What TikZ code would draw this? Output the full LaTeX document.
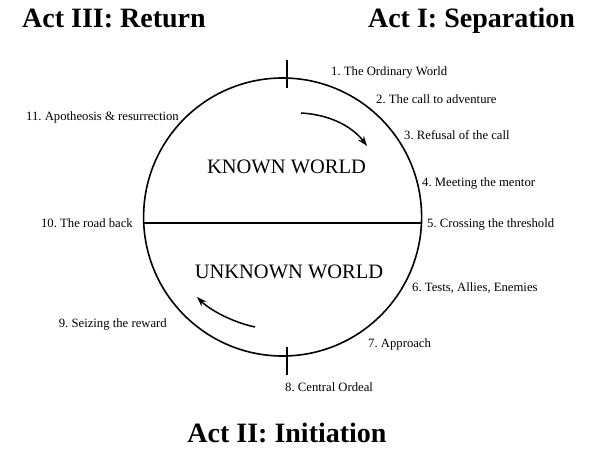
\documentclass[tikz,border=0pt]{standalone}
\usepackage{fontspec}
\setmainfont{Liberation Serif}
\usetikzlibrary{arrows.meta}
\frenchspacing
\begin{document}
\begin{tikzpicture}[x=1pt,y=-1pt,
  lbl/.style={inner sep=0pt,font=\fontsize{12.7}{14}\selectfont},
  lblr/.style={lbl,anchor=base west},
  lbll/.style={lbl,anchor=base east},
  acttitle/.style={inner sep=0pt,anchor=base,font=\fontsize{28}{32}\selectfont\bfseries},
  worldtxt/.style={inner sep=0pt,font=\fontsize{20.5}{24}\selectfont},
  rim/.style={line width=1.6pt},
  tick/.style={line width=1.8pt},
  chord/.style={line width=2.3pt},
  flow/.style={line width=1.5pt,-{Stealth[length=10pt,width=7pt]}}
]
\useasboundingbox (0,0) rectangle (593,450);
\fill[white] (0,0) rectangle (593,450);

% circle
\node[circle,draw,rim,inner sep=0pt,minimum size=278pt] (world) at (282.6,217) {};

% chord
\coordinate (cL) at (143.8,222.8);
\coordinate (cR) at (421.4,222.8);
\draw[chord] (cL) -- (cR);

% ticks
\coordinate (tT1) at (287,60);
\coordinate (tT2) at (287,88);
\coordinate (tB1) at (287,347);
\coordinate (tB2) at (287,375);
\draw[tick] (tT1) -- (tT2);
\draw[tick] (tB1) -- (tB2);

% inner texts
\node[worldtxt] (known) at (286.5,167) {KNOWN WORLD};
\node[worldtxt] (unknown) at (289,272) {UNKNOWN WORLD};

% arrows
\coordinate (a1s) at (301,113);
\coordinate (a1e) at (367,146);
\draw[flow] (a1s) .. controls (335,115) and (355,130) .. (a1e);
\coordinate (a2s) at (255,327);
\coordinate (a2e) at (197,297);
\draw[flow] (a2s) .. controls (232,322) and (210,310) .. (a2e);

% stage labels
\node[lblr] (s1) at (331,75) {1. The Ordinary World};
\node[lblr] (s2) at (376,103) {2. The call to adventure};
\node[lblr] (s3) at (404,139) {3. Refusal of the call};
\node[lblr] (s4) at (422,186) {4. Meeting the mentor};
\node[lblr] (s5) at (427,227) {5. Crossing the threshold};
\node[lblr] (s6) at (412,291) {6. Tests, Allies, Enemies};
\node[lblr] (s7) at (368,347) {7. Approach};
\node[lblr] (s8) at (285,391) {8. Central Ordeal};
\node[lbll] (s9) at (167,327) {9. Seizing the reward};
\node[lbll] (s10) at (133,227) {10. The road back};
\node[lbll] (s11) at (179,120) {11. Apotheosis \& resurrection};

% act titles
\node[acttitle] (act3) at (114,27) {Act III: Return};
\node[acttitle] (act1) at (471.5,27) {Act I: Separation};
\node[acttitle] (act2) at (287,442) {Act II: Initiation};
\end{tikzpicture}
\end{document}
